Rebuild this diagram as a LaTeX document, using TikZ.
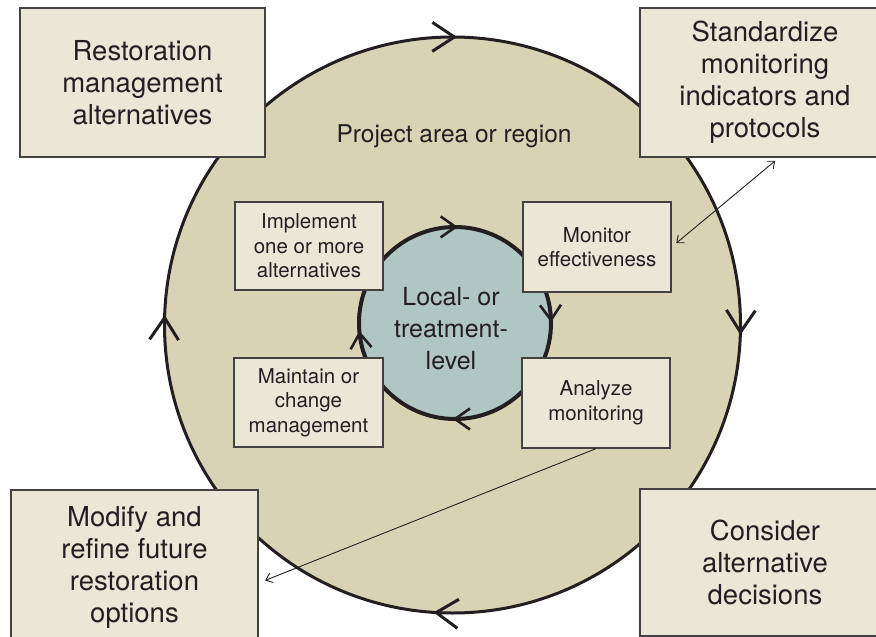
\documentclass[tikz,border=0pt]{standalone}
\usepackage{fontspec}
\setmainfont{TeX Gyre Heros}
\usetikzlibrary{arrows.meta,decorations.markings}
\definecolor{ink}{HTML}{231F20}
\definecolor{regionfill}{HTML}{D8D3B4}
\definecolor{boxfill}{HTML}{EBE7D7}
\definecolor{localfill}{HTML}{AFC6C3}
\newcommand{\chevron}[3]{\draw[ink, line width=#3, line join=miter] (-#1,#2) -- (0,0) -- (-#1,-#2);}

\begin{document}
\begin{tikzpicture}[x=1pt,y=1pt]
		\begin{scope}
		
		\tikzstyle{bigbox}=[rectangle,
		draw=ink!85,
		line width=1.3pt,
		fill=boxfill,
		text=ink,
		align=center,
		inner sep=0pt,
		font=\fontsize{27.5}{32}\selectfont
		]
		\tikzstyle{smallbox}=[rectangle,
		draw=ink!85,
		line width=1.3pt,
		fill=boxfill,
		text=ink,
		align=center,
		inner sep=0pt,
		font=\fontsize{20.5}{24.5}\selectfont
		]
		\tikzstyle{bigring}=[draw=ink,
		line width=3pt,
		fill=regionfill,
		postaction={decorate},
		decoration={markings,
			mark=at position 0.001 with {\chevron{22pt}{14.5pt}{3pt}},
			mark=at position 0.254 with {\chevron{22pt}{14.5pt}{3pt}},
			mark=at position 0.509 with {\chevron{22pt}{14.5pt}{3pt}},
			mark=at position 0.754 with {\chevron{22pt}{14.5pt}{3pt}}}
		]
		\tikzstyle{smallring}=[draw=ink,
		line width=4pt,
		fill=localfill,
		postaction={decorate},
		decoration={markings,
			mark=at position 0.001 with {\chevron{15pt}{10.5pt}{2.6pt}},
			mark=at position 0.245 with {\chevron{15pt}{10.5pt}{2.6pt}},
			mark=at position 0.500 with {\chevron{15pt}{10.5pt}{2.6pt}},
			mark=at position 0.733 with {\chevron{15pt}{10.5pt}{2.6pt}}}
		]
		\tikzstyle{thinline}=[draw=ink,
		line width=0.9pt
		]
		
		\useasboundingbox (0,0) rectangle (876,-637);
		
		\coordinate (pregion) at (452.5,-325);
		\coordinate (plocal) at (455,-323);
		
		\coordinate (pres) at (142.5,-82.5);
		\coordinate (pstd) at (765,-82.5);
		\coordinate (pmod) at (134.5,-567.5);
		\coordinate (pcon) at (765,-562.5);
		
		\coordinate (pimp) at (309,-246);
		\coordinate (pmon) at (597,-247);
		\coordinate (pmai) at (308.5,-402.5);
		\coordinate (pana) at (596,-403);
		
		
		\draw[bigring] (pregion) ++(0,288) arc[start angle=90, end angle=-270, radius=288];
		\node[text=ink, font=\fontsize{24.5}{30}\selectfont, anchor=base] (region) at (454,-142) {Project area or region};
		
		\node[bigbox, minimum width=245, minimum height=149] (res) at (pres) {Restoration\\management\\alternatives};
		\node[bigbox, minimum width=250, minimum height=149] (std) at (pstd) {Standardize\\monitoring\\indicators and\\protocols};
		\node[bigbox, minimum width=247, minimum height=155] (mod) at (pmod) {Modify and\\refine future\\restoration\\options};
		\node[bigbox, minimum width=250, minimum height=147] (con) at (pcon) {Consider\\alternative\\decisions};
		
		\draw[smallring] (plocal) ++(0,96) arc[start angle=90, end angle=-270, radius=96];
		\node[text=ink, align=center, font=\fontsize{25}{32}\selectfont] (local) at (451,-329) {Local- or\\treatment-\\level};
		
		\node[smallbox, minimum width=148, minimum height=88] (imp) at (pimp) {Implement\\one or more\\alternatives};
		\node[smallbox, minimum width=148, minimum height=90] (mon) at (pmon) {Monitor\\effectiveness};
		\node[smallbox, minimum width=149, minimum height=89] (mai) at (pmai) {Maintain or\\change\\management};
		\node[smallbox, minimum width=148, minimum height=90] (ana) at (pana) {Analyze\\monitoring};
		
		
		\draw[thinline, {Straight Barb[length=6pt,width=10pt]}-{Straight Barb[length=6pt,width=10pt]}, shorten <=6pt, shorten >=5pt] (mon.east) -- ([xshift=14pt]std.south);
		\draw[thinline, -{Straight Barb[length=6pt,width=10pt]}, shorten >=7pt] (ana.south) -- ([yshift=-15.5pt]mod.east);
		
		\end{scope}
\end{tikzpicture}
\end{document}
